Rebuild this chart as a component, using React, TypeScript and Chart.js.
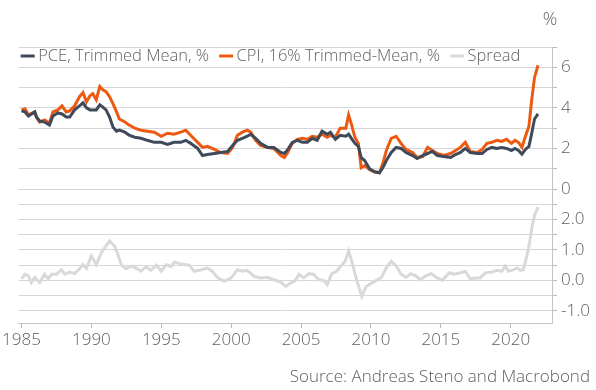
import React, { useEffect, useRef } from 'react';
import { Chart, registerables } from 'chart.js';

Chart.register(...registerables);

// ---- data ----
const topDates = [
  1985.0, 1985.25, 1985.5, 1985.95, 1986.07, 1986.3, 1986.65, 1987.0, 1987.25, 1987.6,
  1987.9, 1988.2, 1988.45, 1988.8, 1989.15, 1989.4, 1989.65, 1989.9, 1990.1, 1990.35,
  1990.6, 1990.8, 1991.05, 1991.3, 1991.55, 1991.8, 1992.0, 1992.4, 1992.7, 1993.1,
  1993.55, 1994.0, 1994.5, 1995.0, 1995.45, 1995.9, 1996.4, 1996.75, 1997.1, 1997.6,
  1997.95, 1998.3, 1998.8, 1999.25, 1999.75, 2000.1, 2000.45, 2000.8, 2001.15, 2001.4,
  2001.75, 2002.1, 2002.6, 2003.05, 2003.55, 2003.8, 2004.0, 2004.37, 2004.73, 2005.1,
  2005.45, 2005.8, 2006.15, 2006.5, 2006.87, 2007.1, 2007.45, 2007.8, 2008.2, 2008.4,
  2008.6, 2008.85, 2009.1, 2009.3, 2009.55, 2009.9, 2010.25, 2010.6, 2010.85, 2011.1,
  2011.45, 2011.8, 2012.15, 2012.5, 2012.98, 2013.3, 2013.7, 2014.05, 2014.4, 2014.75,
  2015.2, 2015.7, 2016.05, 2016.4, 2016.75, 2017.1, 2017.6, 2017.95, 2018.3, 2018.65,
  2019.0, 2019.35, 2019.7, 2020.05, 2020.3, 2020.55, 2020.8, 2021.05, 2021.3, 2021.5,
  2021.7, 2021.95,
];

const pceValues = [
  3.85, 3.8, 3.6, 3.8, 3.55, 3.35, 3.3, 3.15, 3.6, 3.75,
  3.7, 3.55, 3.55, 3.9, 4.1, 4.25, 4.0, 3.9, 3.9, 3.9,
  4.15, 4.05, 3.9, 3.55, 3.05, 2.85, 2.9, 2.8, 2.65, 2.55,
  2.5, 2.4, 2.3, 2.3, 2.2, 2.3, 2.3, 2.4, 2.25, 2.0,
  1.65, 1.7, 1.75, 1.8, 1.85, 2.15, 2.4, 2.5, 2.6, 2.7,
  2.5, 2.25, 2.05, 2.05, 1.8, 1.75, 1.9, 2.3, 2.4, 2.3,
  2.3, 2.5, 2.4, 2.85, 2.7, 2.8, 2.45, 2.65, 2.6, 2.7,
  2.5, 2.25, 2.1, 1.55, 1.4, 1.0, 0.85, 0.8, 1.05, 1.4,
  1.8, 2.05, 2.0, 1.8, 1.65, 1.5, 1.65, 1.75, 1.85, 1.65,
  1.6, 1.55, 1.7, 1.8, 2.0, 1.8, 1.75, 1.75, 1.95, 2.05,
  2.0, 2.05, 2.0, 1.9, 2.0, 1.9, 1.72, 1.95, 2.1, 2.75,
  3.45, 3.7,
];

const cpiValues = [
  3.9, 3.95, 3.65, 3.8, 3.55, 3.3, 3.4, 3.25, 3.8, 3.9,
  4.1, 3.8, 3.85, 4.1, 4.55, 4.75, 4.3, 4.6, 4.7, 4.4,
  5.05, 4.9, 4.8, 4.55, 4.2, 3.8, 3.45, 3.3, 3.15, 3.0,
  2.9, 2.85, 2.8, 2.6, 2.75, 2.7, 2.8, 2.9, 2.65, 2.3,
  2.05, 2.1, 1.95, 1.8, 1.75, 2.05, 2.65, 2.8, 2.9, 2.8,
  2.4, 2.15, 2.05, 2.0, 1.65, 1.55, 1.75, 2.25, 2.45, 2.5,
  2.45, 2.6, 2.55, 2.7, 2.55, 2.65, 2.55, 3.0, 3.0, 3.65,
  3.2, 2.55, 2.25, 1.05, 1.15, 0.95, 0.85, 0.8, 1.25, 1.9,
  2.5, 2.6, 2.25, 1.95, 1.8, 1.55, 1.6, 2.05, 1.9, 1.75,
  1.65, 1.75, 1.9, 2.05, 2.3, 1.85, 1.8, 1.95, 2.25, 2.3,
  2.4, 2.35, 2.45, 2.25, 2.4, 2.3, 2.05, 2.6, 3.1, 4.4,
  5.5, 6.1,
];

const spreadDates = [
  1985.0, 1985.25, 1985.5, 1985.7, 1985.95, 1986.3, 1986.65, 1986.9, 1987.15, 1987.5,
  1987.85, 1988.1, 1988.45, 1988.8, 1989.15, 1989.4, 1989.65, 1990.0, 1990.35, 1990.7,
  1991.05, 1991.3, 1991.65, 1991.9, 1992.15, 1992.5, 1992.85, 1993.2, 1993.55, 1993.9,
  1994.25, 1994.65, 1995.0, 1995.35, 1995.7, 1995.95, 1996.3, 1996.65, 1997.0, 1997.35,
  1997.85, 1998.3, 1998.65, 1999.0, 1999.5, 2000.0, 2000.45, 2000.8, 2001.15, 2001.65,
  2002.1, 2002.6, 2003.05, 2003.55, 2003.9, 2004.25, 2004.6, 2004.85, 2005.2, 2005.55,
  2005.9, 2006.27, 2006.6, 2006.87, 2007.2, 2007.55, 2007.9, 2008.15, 2008.4, 2008.65,
  2009.0, 2009.35, 2009.65, 2010.05, 2010.4, 2010.75, 2011.1, 2011.45, 2011.8, 2012.15,
  2012.5, 2012.85, 2013.2, 2013.55, 2013.9, 2014.3, 2014.65, 2015.1, 2015.6, 2015.95,
  2016.4, 2016.75, 2017.1, 2017.45, 2017.8, 2018.2, 2018.65, 2019.0, 2019.35, 2019.6,
  2019.85, 2020.2, 2020.45, 2020.7, 2020.9, 2021.15, 2021.35, 2021.5, 2021.7, 2021.95,
];

const spreadValues = [
  0.05, 0.2, 0.15, -0.07, 0.1, -0.07, 0.2, 0.05, 0.2, 0.2,
  0.35, 0.2, 0.27, 0.22, 0.38, 0.52, 0.4, 0.8, 0.52, 0.9,
  1.13, 1.3, 1.13, 0.85, 0.5, 0.38, 0.47, 0.4, 0.3, 0.45,
  0.33, 0.5, 0.3, 0.52, 0.45, 0.6, 0.55, 0.52, 0.5, 0.3,
  0.35, 0.4, 0.3, 0.1, -0.03, 0.08, 0.35, 0.3, 0.33, 0.13,
  0.08, 0.1, 0.02, -0.06, -0.2, -0.09, 0.0, 0.2, 0.08, 0.22,
  0.2, 0.02, 0.0, -0.14, 0.22, 0.3, 0.5, 0.63, 0.97, 0.58,
  -0.03, -0.53, -0.2, -0.09, 0.0, 0.1, 0.41, 0.63, 0.47, 0.2,
  0.1, 0.22, 0.15, 0.02, 0.15, 0.22, 0.1, 0.0, 0.25, 0.2,
  0.25, 0.3, 0.05, 0.08, 0.08, 0.25, 0.27, 0.33, 0.3, 0.47,
  0.3, 0.35, 0.41, 0.33, 0.35, 0.8, 1.25, 1.7, 2.13, 2.41,
];

const xTickYears = [1985, 1990, 1995, 2000, 2005, 2010, 2015, 2020];
const seriesNames = ['PCE, Trimmed Mean, %', 'CPI, 16% Trimmed-Mean, %', 'Spread'];
const unitLabel = '%';
const sourceText = 'Source: Andreas Steno and Macrobond';

// ---- styles ----
const FONT_FAMILY = '"Open Sans", "Liberation Sans", sans-serif';
const TEXT_COLOR = '#5f5f5f';
const GRID_COLOR = '#d6d6d6';
const AXIS_COLOR = '#c4c4c4';
const TICK_COLOR = '#b8b8b8';
const PCE_COLOR = '#3e4a5b';
const CPI_COLOR = '#ec5a12';
const SPREAD_COLOR = '#d9d9d9';

const toPoints = (xs: number[], ys: number[]) => xs.map((x, i) => ({ x, y: ys[i] }));

// legend drawn inside the top of the plot area, as in the reference
const legendPlugin = {
  id: 'inlineLegend',
  beforeDatasetsDraw(chart: any) {
    const { ctx, chartArea } = chart;
    ctx.save();
    ctx.font = `300 16.5px ${FONT_FAMILY}`;
    ctx.textBaseline = 'middle';
    ctx.textAlign = 'left';
    const y = chartArea.top + 9;
    let x = chartArea.left + 2;
    chart.data.datasets.forEach((ds: any) => {
      ctx.strokeStyle = ds.borderColor;
      ctx.lineWidth = 3;
      ctx.lineCap = 'butt';
      ctx.beginPath();
      ctx.moveTo(x, y);
      ctx.lineTo(x + 14, y);
      ctx.stroke();
      x += 17.5;
      ctx.fillStyle = TEXT_COLOR;
      ctx.fillText(ds.label, x, y);
      x += ctx.measureText(ds.label).width + 10;
    });
    ctx.restore();
  },
};

const textPlugin = {
  id: 'extraText',
  afterDraw(chart: any) {
    const { ctx, chartArea } = chart;
    ctx.save();
    ctx.fillStyle = TEXT_COLOR;
    ctx.textBaseline = 'middle';
    ctx.font = `300 18px ${FONT_FAMILY}`;
    ctx.textAlign = 'center';
    ctx.fillText(unitLabel, chartArea.right - 2, 20);
    ctx.font = `300 17px ${FONT_FAMILY}`;
    ctx.textAlign = 'right';
    ctx.fillText(sourceText, 590, 377);
    ctx.restore();
  },
};

export default function App() {
  const ref = useRef<HTMLCanvasElement>(null);

  useEffect(() => {
    const font = { family: FONT_FAMILY, size: 17, weight: 300 as any };
    const valueGrid = { display: true, drawOnChartArea: true, drawTicks: true, color: GRID_COLOR, lineWidth: 1, tickLength: 5, tickColor: TICK_COLOR };
    const chart = new Chart(ref.current as HTMLCanvasElement, {
      type: 'line',
      data: {
        datasets: [
          {
            label: seriesNames[0],
            data: toPoints(topDates, pceValues),
            borderColor: PCE_COLOR,
            backgroundColor: PCE_COLOR,
            borderWidth: 3,
            pointRadius: 0,
            tension: 0,
            fill: false,
            yAxisID: 'yTop',
          },
          {
            label: seriesNames[1],
            data: toPoints(topDates, cpiValues),
            borderColor: CPI_COLOR,
            backgroundColor: CPI_COLOR,
            borderWidth: 3,
            pointRadius: 0,
            tension: 0,
            fill: false,
            yAxisID: 'yTop',
          },
          {
            label: seriesNames[2],
            data: toPoints(spreadDates, spreadValues),
            borderColor: SPREAD_COLOR,
            backgroundColor: SPREAD_COLOR,
            borderWidth: 3,
            pointRadius: 0,
            tension: 0,
            fill: false,
            yAxisID: 'yBot',
          },
        ],
      },
      options: {
        animation: false,
        responsive: true,
        maintainAspectRatio: false,
        layout: { padding: { top: 47, left: 17, right: 0, bottom: 35 } },
        plugins: {
          legend: { display: false },
          tooltip: { enabled: false },
        },
        scales: {
          x: {
            type: 'linear',
            min: 1984.8,
            max: 2022.95,
            afterBuildTicks: (s: any) => {
              s.ticks = xTickYears.map((v) => ({ value: v }));
            },
            afterFit: (s: any) => {
              s.height = 32;
            },
            ticks: {
              autoSkip: false,
              maxRotation: 0,
              padding: 2,
              color: TEXT_COLOR,
              font,
              callback: (v: any) => String(v),
            },
            grid: { drawOnChartArea: false, drawTicks: true, tickLength: 5, tickColor: TICK_COLOR },
            border: { display: true, color: AXIS_COLOR },
          },
          yTop: {
            type: 'linear',
            position: 'right',
            stack: 'panels',
            stackWeight: 142,
            min: 0,
            max: 7,
            afterFit: (s: any) => {
              s.width = 44;
            },
            ticks: {
              stepSize: 1,
              autoSkip: false,
              padding: 4,
              color: TEXT_COLOR,
              font,
              callback: (v: any) => (Math.round(v) % 2 === 0 && v < 7 ? String(v) : ''),
            },
            grid: valueGrid,
            border: { display: true, color: AXIS_COLOR },
          },
          yBot: {
            type: 'linear',
            position: 'right',
            stack: 'panels',
            stackWeight: 134,
            min: -1.4,
            max: 3,
            afterFit: (s: any) => {
              s.width = 44;
            },
            ticks: {
              stepSize: 0.5,
              autoSkip: false,
              includeBounds: false,
              padding: 4,
              color: TEXT_COLOR,
              font,
              callback: (v: any) =>
                Math.abs(v - Math.round(v)) < 1e-6 && v < 2.5 ? (Math.round(v) === 0 ? 0 : Math.round(v)).toFixed(1) : '',
            },
            grid: valueGrid,
            border: { display: true, color: AXIS_COLOR },
          },
        },
      } as any,
      plugins: [legendPlugin, textPlugin],
    });
    return () => chart.destroy();
  }, []);

  return (
    <div style={{ position: 'absolute', left: 0, top: 0, width: 596, height: 390 }}>
      <canvas ref={ref} />
    </div>
  );
}
